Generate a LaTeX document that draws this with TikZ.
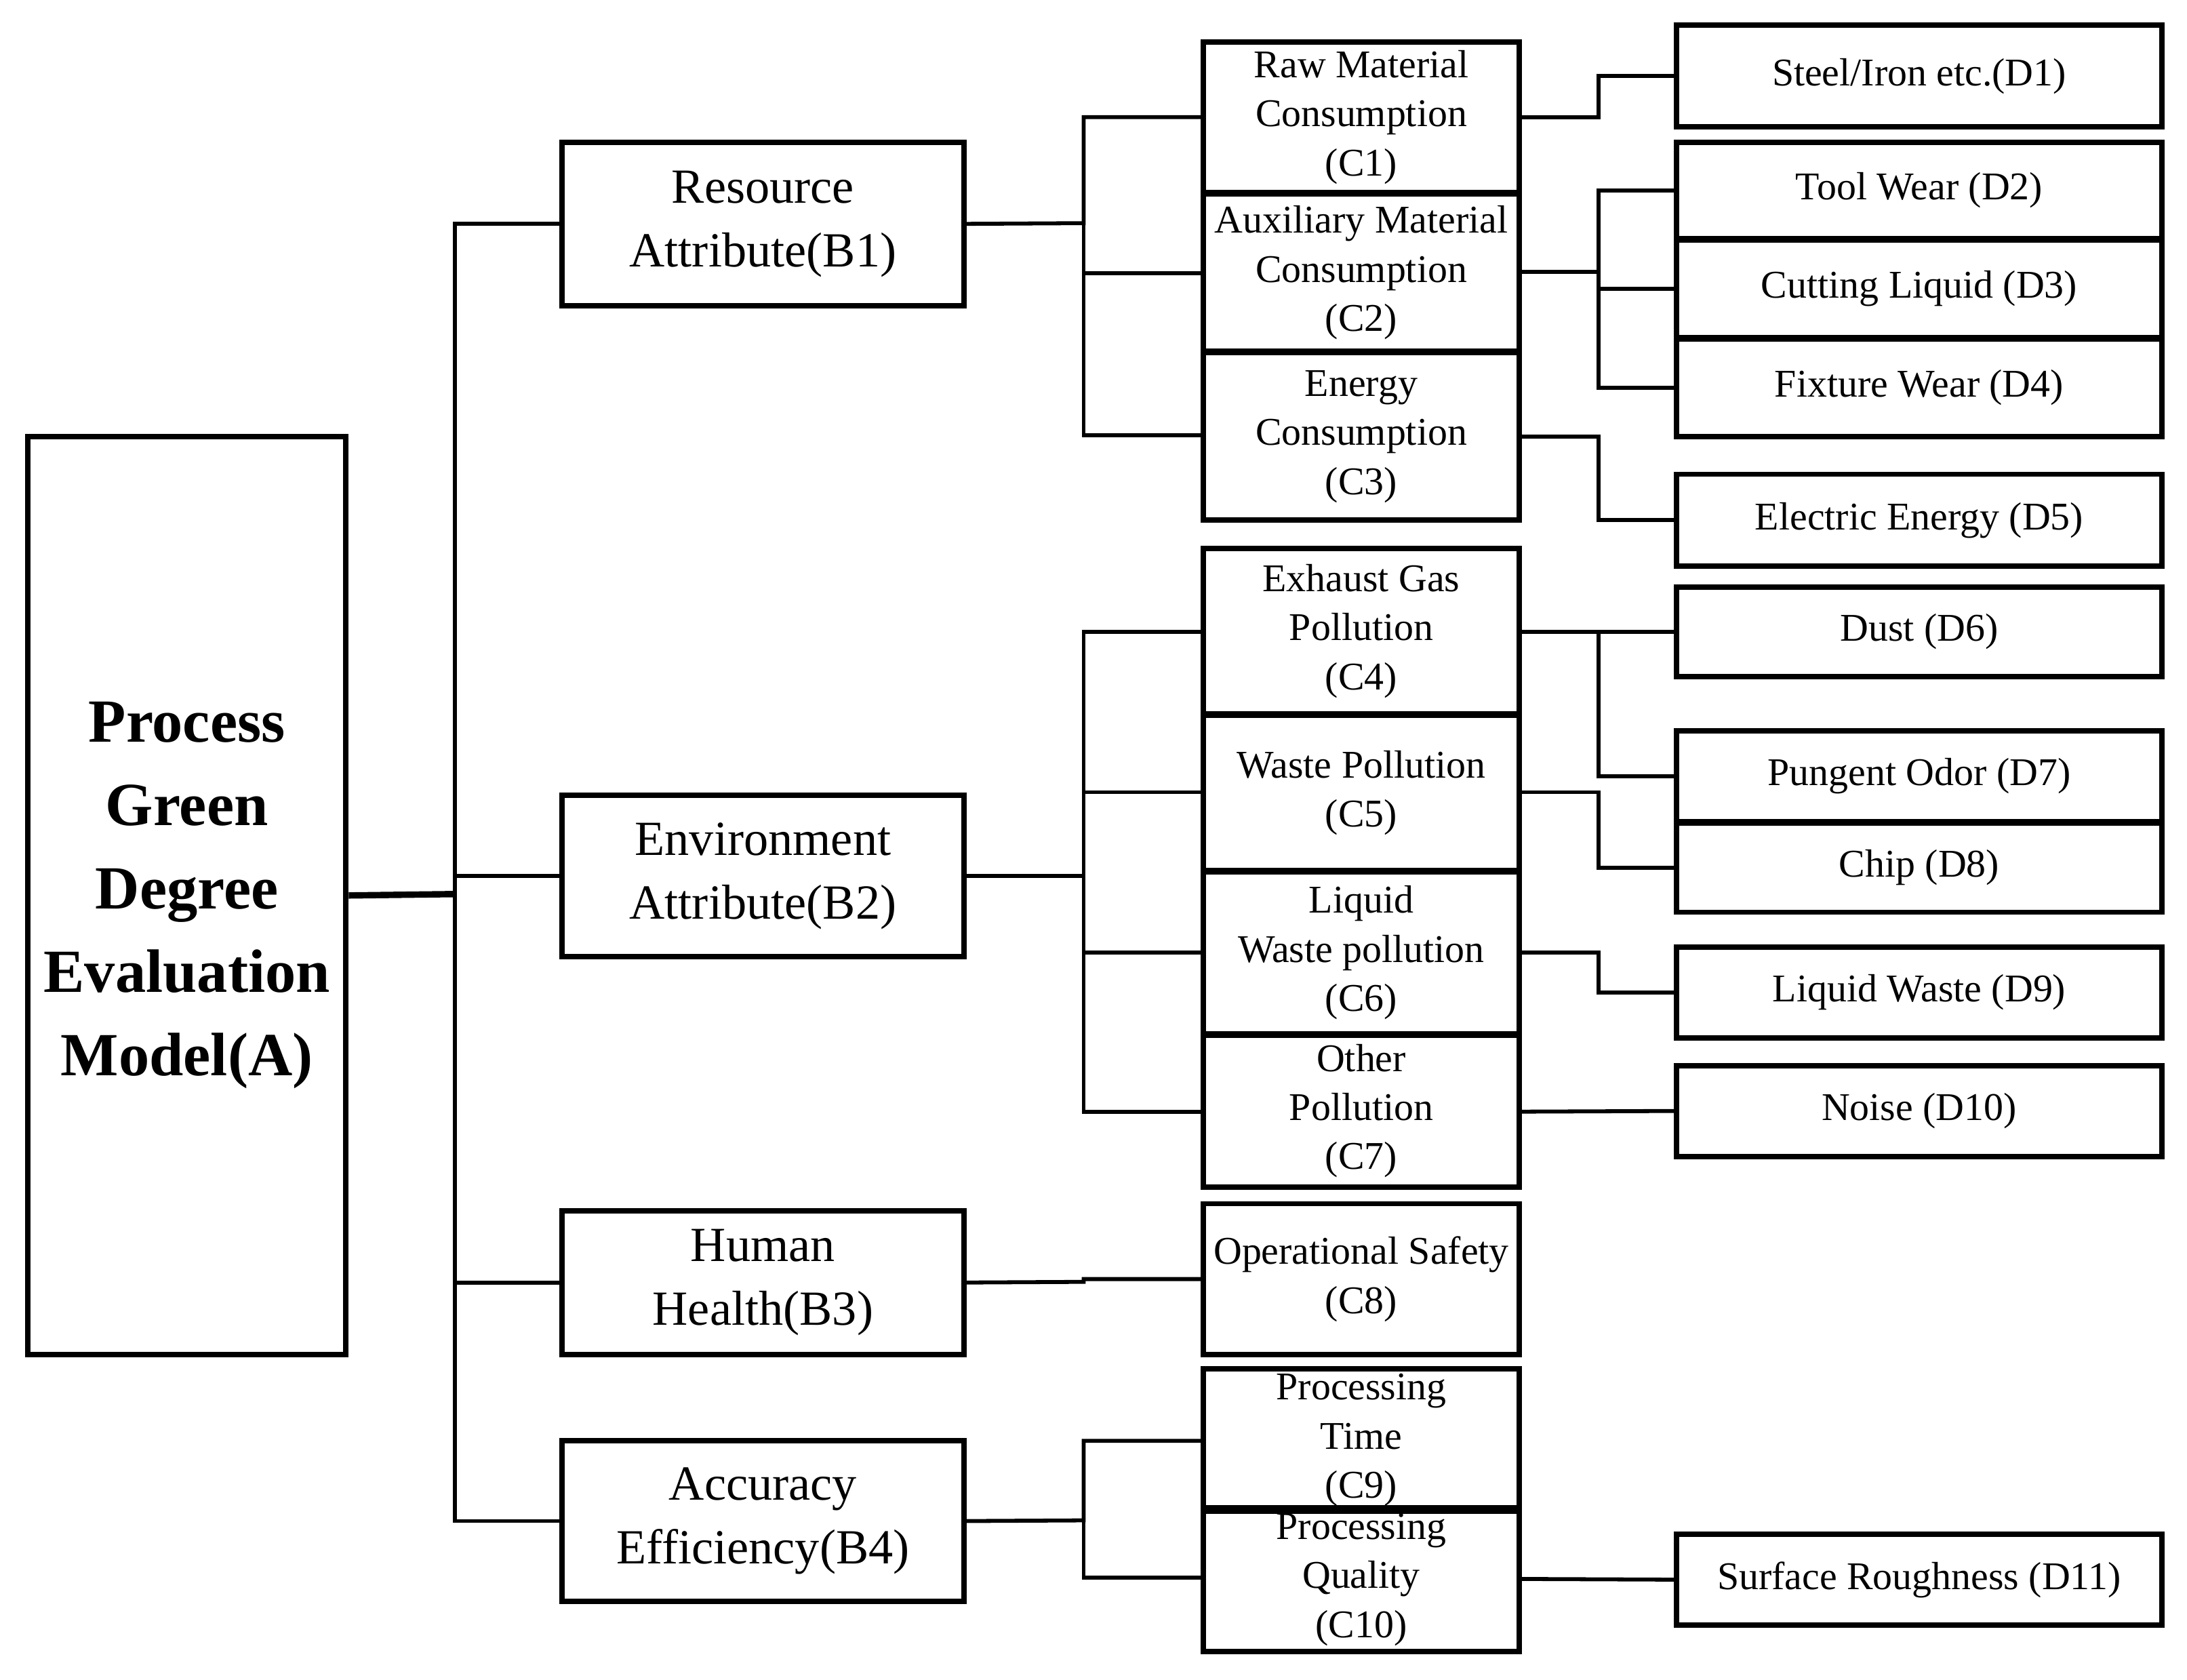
\documentclass[tikz,border=0pt]{standalone}
\usepackage{fontspec}
\setmainfont{Liberation Serif}
\begin{document}
\begin{tikzpicture}[x=0.01cm,y=-0.01cm,
  box/.style={draw,line width=1.1pt,align=center,inner sep=1pt},
  cbox/.style={box,minimum width=2.26cm,font=\fontsize{8}{10}\selectfont},
  dbox/.style={box,minimum width=3.48cm,font=\fontsize{8}{10}\selectfont},
  bbox/.style={box,minimum width=2.88cm,font=\fontsize{10}{13}\selectfont},
  ln/.style={line width=0.8pt}]
\useasboundingbox (0,0) rectangle (1568,1204);
\newcommand{\bx}[6]{\node[#1,minimum height={(#5-#4)*0.01cm}] (#2) at (#3,{(#4+#5)/2}) {#6};}
\bx{box,minimum width=2.28cm,font=\fontsize{12.5}{17}\selectfont\bfseries}{A}{134}{313}{971}{Process\\Green\\Degree\\Evaluation\\Model(A)}
\bx{bbox}{B1}{547}{102}{219}{Resource\\Attribute(B1)}
\bx{bbox}{B2}{547}{570}{686}{Environment\\Attribute(B2)}
\bx{bbox}{B3}{547}{868}{971}{Human\\Health(B3)}
\bx{bbox}{B4}{547}{1033}{1148}{Accuracy\\Efficiency(B4)}
\bx{cbox}{C1}{976}{30}{138}{Raw Material\\Consumption\\(C1)}
\bx{cbox}{C2}{976}{139}{252}{Auxiliary Material\\Consumption\\(C2)}
\bx{cbox}{C3}{976}{253}{373}{Energy\\Consumption\\(C3)}
\bx{cbox}{C4}{976}{393}{512}{Exhaust Gas\\Pollution\\(C4)}
\bx{cbox}{C5}{976}{513}{624}{Waste Pollution\\(C5)}
\bx{cbox}{C6}{976}{625}{741}{Liquid\\Waste pollution\\(C6)}
\bx{cbox}{C7}{976}{742}{851}{Other\\Pollution\\(C7)}
\bx{cbox}{C8}{976}{863}{971}{Operational Safety\\(C8)}
\bx{cbox}{C9}{976}{985}{1080}{Processing\\Time\\(C9)}
\bx{cbox}{C10}{976}{1081}{1184}{Processing\\Quality\\(C10)}
\bx{dbox}{D1}{1376}{18}{91}{Steel/Iron etc.(D1)}
\bx{dbox}{D2}{1376}{102}{171}{Tool Wear (D2)}
\bx{dbox}{D3}{1376}{172}{242}{Cutting Liquid (D3)}
\bx{dbox}{D4}{1376}{243}{313}{Fixture Wear (D4)}
\bx{dbox}{D5}{1376}{340}{406}{Electric Energy (D5)}
\bx{dbox}{D6}{1376}{421}{485}{Dust (D6)}
\bx{dbox}{D7}{1376}{524}{589}{Pungent Odor (D7)}
\bx{dbox}{D8}{1376}{590}{654}{Chip (D8)}
\bx{dbox}{D9}{1376}{679}{744}{Liquid Waste (D9)}
\bx{dbox}{D10}{1376}{764}{829}{Noise (D10)}
\bx{dbox}{D11}{1376}{1100}{1165}{Surface Roughness (D11)}
% A to B
\coordinate (t) at (326,641);
\draw[ln,line width=1.3pt] (A.east) -- (t);
\draw[ln] (326,160) -- (326,1090);
\foreach \b in {B1,B2,B3,B4} \draw[ln] (t) |- (\b.west);
% B to C
\draw[ln] (B1.east) -- (777,160) |- (863,84);
\draw[ln] (777,160) |- (863,196);
\draw[ln] (777,160) |- (863,312);
\draw[ln] (B2.east) -- (777,628) |- (863,453);
\draw[ln] (777,628) |- (863,568);
\draw[ln] (777,628) |- (863,683);
\draw[ln] (777,628) |- (863,797);
\draw[ln] (B3.east) -- (777,919) |- (C8.west);
\draw[ln] (B4.east) -- (777,1090) |- (863,1033);
\draw[ln] (777,1090) |- (863,1131);
% C to D
\draw[ln] (1089,84) -- (1146,84) |- (D1.west);
\draw[ln] (1089,195) -- (1146,195) |- (D2.west);
\draw[ln] (1146,195) |- (D3.west);
\draw[ln] (1146,195) |- (D4.west);
\draw[ln] (1089,313) -- (1146,313) |- (D5.west);
\draw[ln] (1089,453) -- (D6.west);
\draw[ln] (1146,453) |- (D7.west);
\draw[ln] (1089,568) -- (1146,568) |- (D8.west);
\draw[ln] (1089,683) -- (1146,683) |- (D9.west);
\draw[ln] (1089,797) -- (D10.west);
\draw[ln] (1089,1132) -- (D11.west);
\end{tikzpicture}
\end{document}
